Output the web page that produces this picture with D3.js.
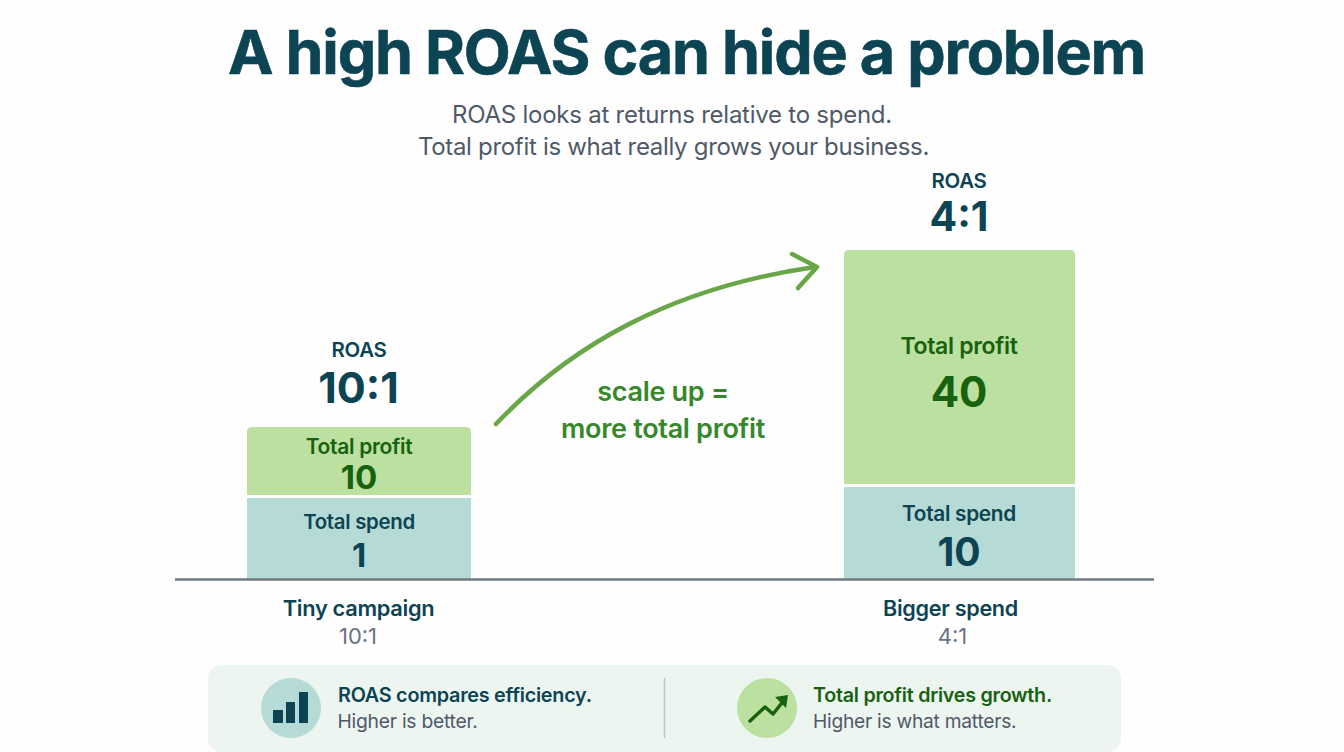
<!DOCTYPE html>
<html><head><meta charset="utf-8">
<script src="https://cdn.jsdelivr.net/npm/d3@7/dist/d3.min.js"></script>
<style>html,body{margin:0;padding:0;background:#fff}svg{display:block}text{font-family:Inter,sans-serif}</style>
</head><body><svg id="c" width="1344" height="752"></svg>
<script>
const campaigns = ["Tiny campaign", "Bigger spend"];
const roasLabels = ["10:1", "4:1"];
const spendValues = [1, 10];
const profitValues = [10, 40];
const subtitleLines = ["ROAS looks at returns relative to spend.", "Total profit is what really grows your business."];
const arrowLines = ["scale up =", "more total profit"];

const navy="#0c4454", green="#17620f", grey="#4f5a68", greyLight="#697280";
const svg=d3.select("#c");
svg.append("rect").attr("width",1344).attr("height",752).attr("fill","#fefefe");

function T(x,y,s,size,weight,fill,anchor="middle",ls=null){
  const t=svg.append("text").attr("x",x).attr("y",y).attr("font-size",size).attr("font-weight",weight)
   .attr("fill",fill).attr("text-anchor",anchor).text(s);
  if(ls!==null)t.attr("letter-spacing",ls);
  return t;
}
T(686.5,74,"A high ROAS can hide a problem",61,700,navy,"middle",-1.2).attr("stroke",navy).attr("stroke-width",0.6);
T(672,123,subtitleLines[0],24,400,grey,"middle",-0.25);
T(673.5,155,subtitleLines[1],24,400,grey,"middle",-0.31);

const baseY=579;
// the picture is not drawn to a single scale: each stack segment has its own piecewise axis
const ySpend=d3.scaleLinear().domain([0,1,10]).range([0,81,92]);
const yProfit=d3.scaleLinear().domain([0,10,40]).range([0,68,234]);
const x=d3.scaleOrdinal().domain(campaigns).range([247,844]);
const w=d3.scaleOrdinal().domain(campaigns).range([224,231]);
const gap=3;

function topRounded(x0,y0,wd,h,r){return `M${x0},${y0+h}V${y0+r}Q${x0},${y0} ${x0+r},${y0}H${x0+wd-r}Q${x0+wd},${y0} ${x0+wd},${y0+r}V${y0+h}Z`;}

const layout=campaigns.map((c,i)=>{
  const sh=ySpend(spendValues[i]),ph=yProfit(profitValues[i]);
  const sTop=baseY-sh,pBot=sTop-gap,pTop=pBot-ph;
  return {c,i,sh,ph,sTop,pBot,pTop,x0:x(c),wd:w(c),cx:x(c)+w(c)/2-(i?0.5:0)};
});
svg.selectAll(".spend").data(layout).join("rect").attr("class","spend")
  .attr("x",d=>d.x0).attr("y",d=>d.sTop).attr("width",d=>d.wd).attr("height",d=>d.sh).attr("fill","#b6dad5");
svg.selectAll(".profit").data(layout).join("path").attr("class","profit")
  .attr("d",d=>topRounded(d.x0,d.pTop,d.wd,d.ph,5)).attr("fill","#bce09f");

const L=layout[0],R=layout[1];
// left labels
T(L.cx,454,"Total profit",21,600,green,"middle",-0.3);
T(L.cx,489,String(profitValues[0]),33,700,green);
T(L.cx,528.5,"Total spend",20.4,600,navy,"middle",-0.3);
T(L.cx,567,String(spendValues[0]),33,700,navy);
T(L.cx,357,"ROAS",20.4,600,navy,"middle",-0.3);
T(L.cx-0.5,403,roasLabels[0],43,700,navy);
// right labels
T(R.cx,354,"Total profit",23,600,green,"middle",-0.3);
T(R.cx,407,String(profitValues[1]),42,700,green);
T(R.cx,520.5,"Total spend",20.8,600,navy,"middle",-0.3);
T(R.cx,565.5,String(spendValues[1]),39,700,navy);
T(R.cx,187.5,"ROAS",20.4,600,navy,"middle",-0.3);
T(R.cx,231,roasLabels[1],41,700,navy);

// baseline
svg.append("line").attr("x1",175).attr("x2",1154).attr("y1",baseY+0.5).attr("y2",baseY+0.5).attr("stroke","#6f7a83").attr("stroke-width",2.5);

// category labels
const catCx=[358.5,950.5], subCx=[358,952.5];
layout.forEach((d,i)=>{
  T(catCx[i],616,d.c,[21.8,21.6][i],600,navy,"middle",-0.3);
  T(subCx[i],644,roasLabels[i],22,400,greyLight);
});

// arrow
svg.append("path").attr("d","M496,424C570,346 670,288 815,267").attr("fill","none").attr("stroke","#68a648").attr("stroke-width",4.5).attr("stroke-linecap","round");
svg.append("path").attr("d","M792,254L817,267L798,288").attr("fill","none").attr("stroke","#68a648").attr("stroke-width",4.5).attr("stroke-linecap","round").attr("stroke-linejoin","round");
arrowLines.forEach((s,i)=>T(663,[401,438][i],s,27,600,"#37872b","middle",-0.3));

// footer panel
svg.append("rect").attr("x",208).attr("y",665).attr("width",913).attr("height",87).attr("rx",14).attr("fill","#edf5f1");
svg.append("line").attr("x1",664.5).attr("x2",664.5).attr("y1",678).attr("y2",738).attr("stroke","#bcc6c3").attr("stroke-width",1.5);
svg.append("circle").attr("cx",291).attr("cy",708).attr("r",30).attr("fill","#b6dad5");
const icon=[[273,710,10,13],[286,702,9,21],[299,692,9,31]];
svg.selectAll(".ic").data(icon).join("rect").attr("class","ic").attr("x",d=>d[0]).attr("y",d=>d[1]).attr("width",d=>d[2]).attr("height",d=>d[3]).attr("fill",navy);
svg.append("circle").attr("cx",767).attr("cy",708).attr("r",30).attr("fill","#bce09f");
svg.append("path").attr("d","M750,721L765,707L773,714L785,699").attr("fill","none").attr("stroke",green).attr("stroke-width",3.5).attr("stroke-linecap","round").attr("stroke-linejoin","round");
svg.append("path").attr("d","M775,697L788,695L786,708Z").attr("fill",green);
T(338,702,"ROAS compares efficiency.",19.8,600,navy,"start",-0.25);
T(337.5,728,"Higher is better.",19.3,400,grey,"start",-0.25);
T(813,702,"Total profit drives growth.",19.7,600,green,"start",-0.25);
T(813,728,"Higher is what matters.",19.2,400,grey,"start",-0.25);
</script></body></html>
